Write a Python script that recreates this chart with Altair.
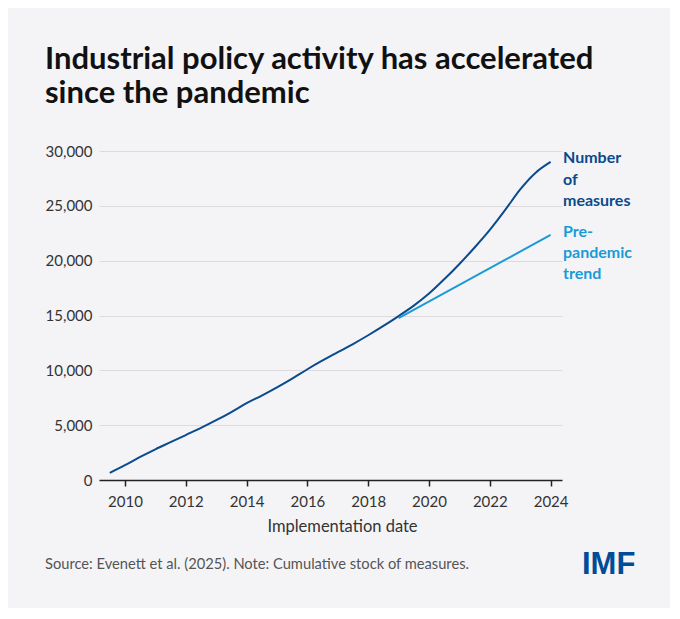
import altair as alt
import pandas as pd

# ---- data ----
years = [2009.5, 2010.0, 2010.5, 2011.0, 2011.5, 2012.0, 2012.5, 2013.0, 2013.5,
         2014.0, 2014.5, 2015.0, 2015.5, 2016.0, 2016.5, 2017.0, 2017.5, 2018.0,
         2018.5, 2019.0, 2019.5, 2020.0, 2020.5, 2021.0, 2021.5, 2022.0, 2022.5,
         2023.0, 2023.5, 2024.0]
measures = [650, 1350, 2100, 2800, 3450, 4100, 4750, 5450, 6200,
            7000, 7700, 8450, 9250, 10100, 10900, 11650, 12400, 13200,
            14050, 14950, 15900, 17000, 18300, 19700, 21200, 22800, 24600,
            26500, 28000, 29000]
trend_years = [2019.0, 2024.0]
trend_values = [14750, 22350]

x_ticks = [2010, 2012, 2014, 2016, 2018, 2020, 2022, 2024]
y_ticks = [0, 5000, 10000, 15000, 20000, 25000, 30000]

title_text = "Industrial policy activity has accelerated\nsince the pandemic"
label_measures = "Number\nof\nmeasures"
label_trend = "Pre-\npandemic\ntrend"
source_text = "Source: Evenett et al. (2025). Note: Cumulative stock of measures."
x_title = "Implementation date"

DARK = "#0b4a8c"
LIGHT = "#1a9bd7"
FONT = "Lato"

df_m = pd.DataFrame({"year": years, "value": measures})
df_t = pd.DataFrame({"year": trend_years, "value": trend_values})
one = pd.DataFrame({"k": [0]})

xscale = alt.Scale(domain=[2009.146, 2024.374], nice=False, zero=False)
yscale = alt.Scale(domain=[0, 30000], nice=False)

xenc = alt.X("year:Q", scale=xscale,
             axis=alt.Axis(values=x_ticks, format="d", title=x_title, grid=False,
                           domainColor="#222222", domainWidth=1.5,
                           tickColor="#222222", tickSize=6, tickWidth=1.5,
                           labelPadding=8, labelFontSize=15, labelColor="#333333",
                           labelFont=FONT, titleFont=FONT, titleFontSize=16.5,
                           titleFontWeight="normal", titleColor="#333333",
                           titlePadding=9, titleX=243, titleAlign="center"))
yenc = alt.Y("value:Q", scale=yscale,
             axis=alt.Axis(values=y_ticks, format=",d", title=None,
                           domain=False, ticks=False, grid=True,
                           gridColor="#dcdcdf", gridWidth=1,
                           labelPadding=7, labelFontSize=15, labelColor="#333333",
                           labelFont=FONT))

line_m = alt.Chart(df_m).mark_line(color=DARK, strokeWidth=2,
                                   interpolate="monotone").encode(x=xenc, y=yenc)
line_t = alt.Chart(df_t).mark_line(color=LIGHT, strokeWidth=2).encode(
    x="year:Q", y="value:Q")

def txt(text, x, y, size, color, weight="normal", font=FONT, lh=None):
    kw = dict(align="left", baseline="alphabetic", fontSize=size, color=color,
              fontWeight=weight, font=font, text=text, clip=False)
    if lh is not None:
        kw["lineHeight"] = lh
        kw["lineBreak"] = "\n"
    return alt.Chart(one).mark_text(**kw).encode(x=alt.value(x), y=alt.value(y))

title = txt(title_text, -54, -82, 31, "#111111", weight="bold", lh=34)
lab_m = txt(label_measures, 464, 12.3, 16, DARK, weight="bold", lh=21.3)
lab_t = txt(label_trend, 464, 85.7, 16, LIGHT, weight="bold", lh=21.3)
source = txt(source_text, -54, 418, 14.7, "#555555")
logo = txt("IMF", 483, 423.3, 31, "#004c97", weight="bold", font="Liberation Sans")

chart = alt.layer(line_m, line_t, title, lab_m, lab_t, source, logo).properties(
    width=463, height=329,
    autosize=alt.AutoSizeParams(type="none"),
    padding={"left": 91, "top": 143, "right": 108, "bottom": 128},
    background="#f4f4f7",
).configure_view(stroke=None)

chart.save("out.html", embed_options={"renderer": "svg", "actions": False})
